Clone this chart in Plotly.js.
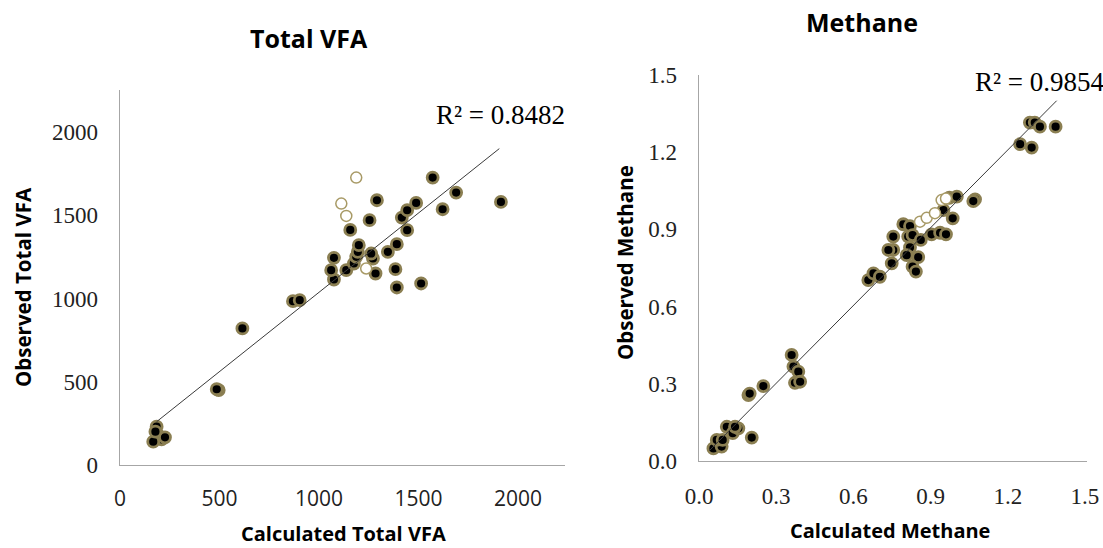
<!DOCTYPE html>
<html>
<head>
<meta charset="utf-8">
<script src="https://cdn.plot.ly/plotly-3.0.1.min.js"></script>
<style>
html,body{margin:0;padding:0;background:#fff;}
#chart{width:1103px;height:548px;}
</style>
</head>
<body>
<div id="chart"></div>
<script>
// ---- Total VFA data ----
const vfaCalc = [184,192,209,167,226,178,496,486,615,869,903,1075,1061,1075,1137,1175,1187,1195,1200,1157,1254,1291,1271,1262,1284,1346,1391,1384,1391,1443,1416,1443,1488,1513,1571,1621,1689,1914];
const vfaObs  = [230,180,154,140,166,200,450,455,820,984,990,1114,1170,1244,1170,1210,1250,1280,1320,1412,1470,1590,1240,1270,1150,1280,1326,1176,1066,1410,1486,1530,1574,1090,1726,1536,1636,1580];
const vfaOpenCalc = [1187,1112,1137,1237];
const vfaOpenObs  = [1726,1570,1496,1180];
const vfaTrendX = [184,1906];
const vfaTrendY = [260,1900];
const vfaR2 = "R² = 0.8482";

// ---- Methane data ----
const ch4Calc = [0.056,0.088,0.069,0.092,0.108,0.131,0.153,0.140,0.205,0.192,0.197,0.250,0.360,0.367,0.386,0.373,0.393,
  0.658,0.678,0.703,0.749,0.755,0.736,0.755,0.794,0.820,0.813,0.830,0.820,0.807,0.852,0.830,0.843,0.862,0.904,0.937,0.960,0.986,0.950,0.973,1.002,1.073,1.066,
  1.286,1.305,1.325,1.386,1.248,1.293];
const ch4Obs  = [0.049,0.056,0.082,0.082,0.133,0.108,0.127,0.133,0.091,0.256,0.262,0.291,0.412,0.367,0.347,0.304,0.308,
  0.703,0.729,0.716,0.768,0.820,0.820,0.872,0.920,0.913,0.872,0.878,0.830,0.800,0.792,0.755,0.736,0.859,0.881,0.887,0.881,0.943,0.975,1.023,1.027,1.017,1.010,
  1.315,1.315,1.299,1.299,1.231,1.218];
const ch4OpenCalc = [0.859,0.885,0.917,0.943,0.960];
const ch4OpenObs  = [0.930,0.945,0.963,1.014,1.020];
const ch4TrendX = [0.04,1.39];
const ch4TrendY = [0.04,1.40];
const ch4R2 = "R² = 0.9854";

const vfaTicks = [0,500,1000,1500,2000];
const ch4Ticks = [0,0.3,0.6,0.9,1.2,1.5];

const W = 1103, H = 548;
const px = x => x / W, py = y => 1 - y / H;

const fillMarker = {size: 11, color: '#000', line: {color: '#8b7f52', width: 2.8}};
const openMarker = {size: 11, color: '#fff', line: {color: '#a89a66', width: 1.5}};
const trendLine = {color: '#3a3a3a', width: 1};

const traces = [
  {x: vfaCalc, y: vfaObs, type: 'scatter', mode: 'markers', marker: fillMarker, xaxis: 'x', yaxis: 'y'},
  {x: vfaOpenCalc, y: vfaOpenObs, type: 'scatter', mode: 'markers', marker: openMarker, xaxis: 'x', yaxis: 'y'},
  {x: vfaTrendX, y: vfaTrendY, type: 'scatter', mode: 'lines', line: trendLine, xaxis: 'x', yaxis: 'y'},
  {x: ch4Calc, y: ch4Obs, type: 'scatter', mode: 'markers', marker: fillMarker, xaxis: 'x2', yaxis: 'y2'},
  {x: ch4OpenCalc, y: ch4OpenObs, type: 'scatter', mode: 'markers', marker: openMarker, xaxis: 'x2', yaxis: 'y2'},
  {x: ch4TrendX, y: ch4TrendY, type: 'scatter', mode: 'lines', line: trendLine, xaxis: 'x2', yaxis: 'y2'}
];

const sans = 'Open Sans, Lato, sans-serif';
const serif = 'Liberation Serif, Times New Roman, serif';
const axCommon = {showgrid: false, zeroline: false, showline: true, linecolor: '#a6a6a6', linewidth: 1.3,
  ticks: 'outside', tickcolor: 'rgba(0,0,0,0)', fixedrange: true};

function ann(text, x, y, size, family, angle) {
  return {text: text, x: px(x), y: py(y), xref: 'paper', yref: 'paper', showarrow: false,
    xanchor: 'center', yanchor: 'middle', textangle: angle || 0, borderpad: 0,
    font: {family: family, size: size, color: '#000'}};
}

const layout = {
  width: W, height: H,
  margin: {l: 0, r: 0, t: 0, b: 0},
  paper_bgcolor: '#fff', plot_bgcolor: '#fff',
  showlegend: false,
  xaxis: Object.assign({}, axCommon, {domain: [px(120), px(565)], range: [0, 2236], tickvals: vfaTicks,
    ticklen: 14, tickfont: {family: sans, size: 21, color: '#222'}, anchor: 'y'}),
  yaxis: Object.assign({}, axCommon, {domain: [py(465), py(90)], range: [0, 2252], tickvals: vfaTicks,
    ticklen: 16, tickfont: {family: serif, size: 23, color: '#222'}, anchor: 'x'}),
  xaxis2: Object.assign({}, axCommon, {domain: [px(699), px(1087)], range: [0, 1.508], tickvals: ch4Ticks, tickformat: '.1f',
    ticklen: 14, tickfont: {family: serif, size: 23, color: '#222'}, anchor: 'y2'}),
  yaxis2: Object.assign({}, axCommon, {domain: [py(461), py(75)], range: [0, 1.5], tickvals: ch4Ticks, tickformat: '.1f',
    ticklen: 16, tickfont: {family: serif, size: 23, color: '#222'}, anchor: 'x2'}),
  annotations: [
    ann('<b>Total VFA</b>', 309, 38, 25, sans),
    ann('<b>Methane</b>', 862, 22, 25, sans),
    ann('<b>Calculated Total VFA</b>', 343, 533, 20, sans),
    ann('<b>Observed Total VFA</b>', 23, 287, 20.5, sans, -90),
    ann('<b>Calculated Methane</b>', 890, 530, 20, sans),
    ann('<b>Observed Methane</b>', 625, 263, 20.5, sans, -90),
    ann(vfaR2, 500, 115, 27, serif),
    ann(ch4R2, 1040, 82, 27, serif)
  ]
};

Plotly.newPlot('chart', traces, layout, {displayModeBar: false, staticPlot: true});
</script>
</body>
</html>
